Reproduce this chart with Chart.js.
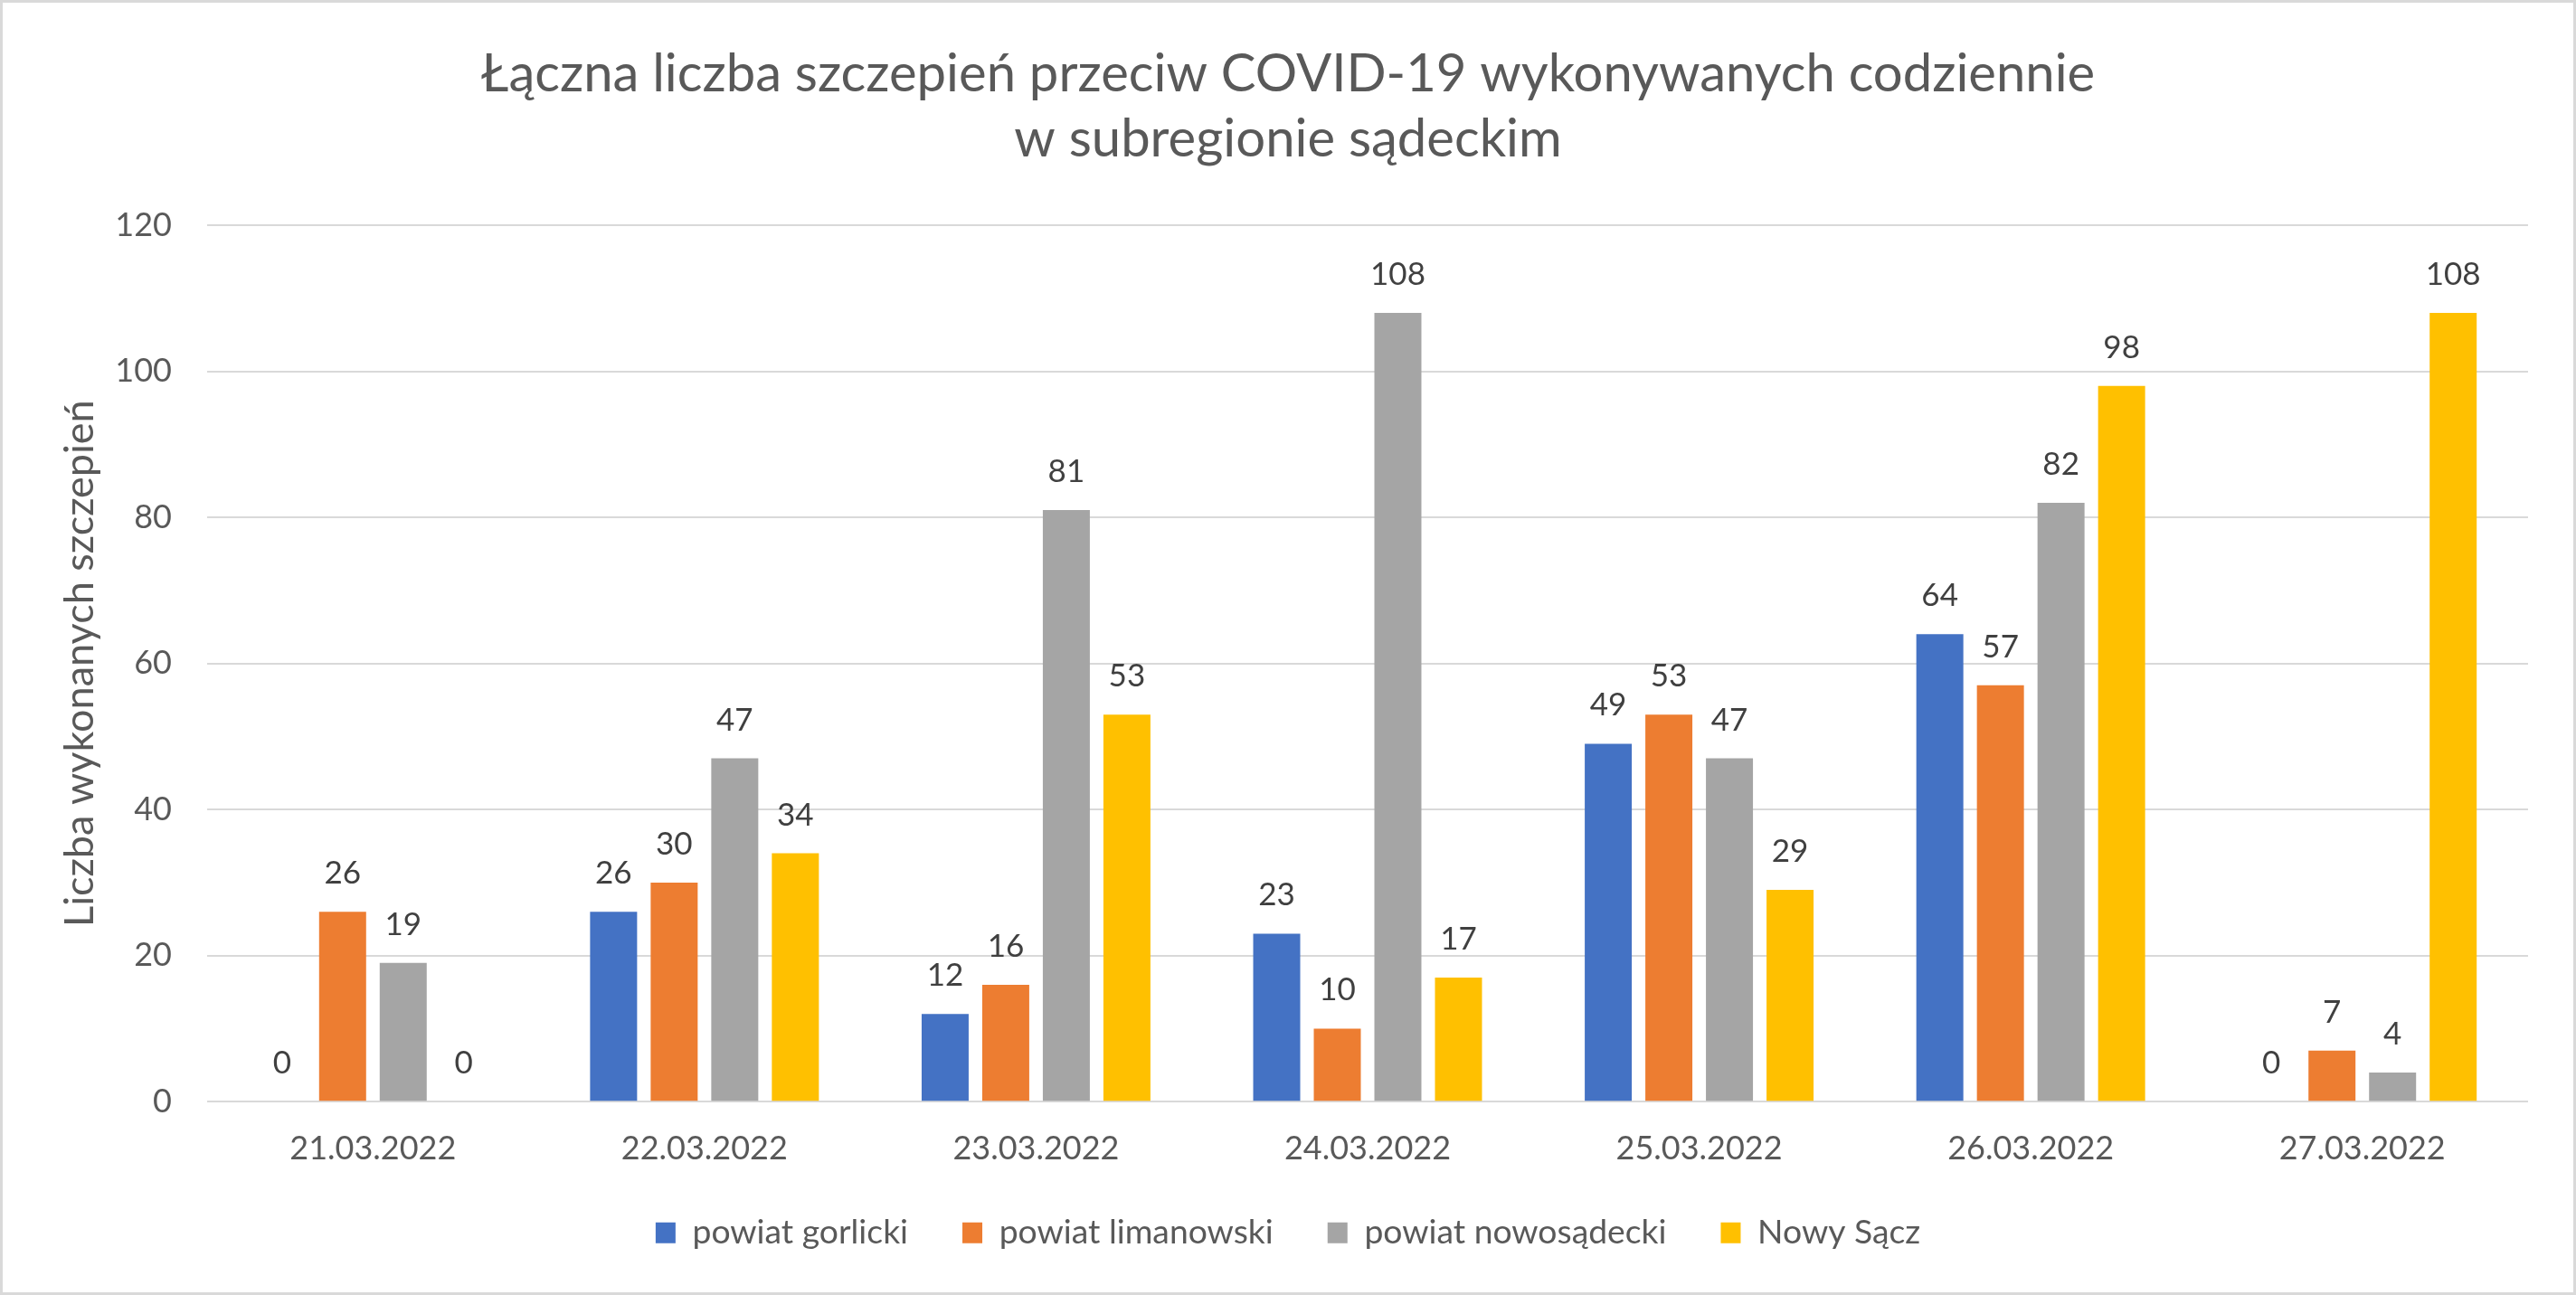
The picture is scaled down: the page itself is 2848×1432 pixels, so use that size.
<!DOCTYPE html>
<html>
<head>
<meta charset="utf-8">
<script src="https://cdn.jsdelivr.net/npm/chart.js@4"></script>
<style>
  html, body { margin: 0; padding: 0; background: #fff; }
  #wrap {
    position: absolute; left: 0; top: 0;
    width: 2848px; height: 1432px;
    box-sizing: border-box;
    border: 3px solid #d9d9d9;
  }
</style>
</head>
<body>
<div id="wrap"><canvas id="barChart"></canvas></div>
<script>
// categories (days)
const days = ['21.03.2022', '22.03.2022', '23.03.2022', '24.03.2022', '25.03.2022', '26.03.2022', '27.03.2022'];

// series values
const gorlicki = [0, 26, 12, 23, 49, 64, 0];
const limanowski = [26, 30, 16, 10, 53, 57, 7];
const nowosadecki = [19, 47, 81, 108, 47, 82, 4];
const nowySacz = [0, 34, 53, 17, 29, 98, 108];

// y axis ticks
const yMin = 0;
const yMax = 120;
const yStep = 20;

const FONT = 'Lato';

// value labels above every bar (also zero ones)
const barLabels = {
  id: 'barLabels',
  afterDatasetsDraw(chart) {
    const ctx = chart.ctx;
    ctx.save();
    ctx.font = '35px ' + FONT;
    ctx.fillStyle = '#404040';
    ctx.textAlign = 'center';
    ctx.textBaseline = 'alphabetic';
    chart.data.datasets.forEach((ds, i) => {
      chart.getDatasetMeta(i).data.forEach((bar, j) => {
        ctx.fillText(ds.data[j], bar.x, bar.y - 31);
      });
    });
    ctx.restore();
  }
};

new Chart(
  document.getElementById('barChart'),
  {
    type: 'bar',
    data: {
      labels: days,
      datasets: [
        { label: 'powiat gorlicki', data: gorlicki, backgroundColor: '#4472C4' },
        { label: 'powiat limanowski', data: limanowski, backgroundColor: '#ED7D31' },
        { label: 'powiat nowosądecki', data: nowosadecki, backgroundColor: '#A5A5A5' },
        { label: 'Nowy Sącz', data: nowySacz, backgroundColor: '#FFC000' }
      ]
    },
    options: {
      responsive: true,
      maintainAspectRatio: false,
      animation: false,
      layout: { padding: { left: 0, right: 0, top: 0, bottom: 37 } },
      datasets: {
        bar: { categoryPercentage: 0.731, barPercentage: 0.776, borderWidth: 0 }
      },
      plugins: {
        title: {
          display: true,
          text: ['Łączna liczba szczepień przeciw COVID-19 wykonywanych codziennie', 'w subregionie sądeckim'],
          color: '#595959',
          font: { family: FONT, size: 58, weight: 'normal', lineHeight: 72 / 58 },
          padding: { top: 43, bottom: 59 }
        },
        legend: {
          position: 'bottom',
          labels: {
            color: '#595959',
            font: { family: FONT, size: 37.3 },
            boxWidth: 22,
            boxHeight: 23,
            padding: 60
          }
        },
        tooltip: { enabled: false }
      },
      scales: {
        x: {
          grid: { display: false, drawTicks: false },
          border: { display: false },
          ticks: { color: '#595959', font: { family: FONT, size: 36, lineHeight: 0.75 }, padding: 38.5 },
          afterFit: (scale) => { scale.height = 66.5; }
        },
        y: {
          min: yMin,
          max: yMax,
          grid: { color: '#d9d9d9', lineWidth: 2, drawTicks: false },
          border: { display: false },
          ticks: { stepSize: yStep, color: '#595959', font: { family: FONT, size: 36 }, padding: 39 },
          title: {
            display: true,
            text: 'Liczba wykonanych szczepień',
            color: '#595959',
            font: { family: FONT, size: 45 },
            padding: { top: 58, bottom: 10 }
          },
          afterFit: (scale) => { scale.width = 226; }
        },
        // empty right axis, only keeps the space on the right side
        yRight: {
          position: 'right',
          display: true,
          grid: { display: false },
          border: { display: false },
          ticks: { display: false },
          afterFit: (scale) => { scale.width = 50; }
        }
      }
    },
    plugins: [barLabels]
  }
);
</script>
</body>
</html>
